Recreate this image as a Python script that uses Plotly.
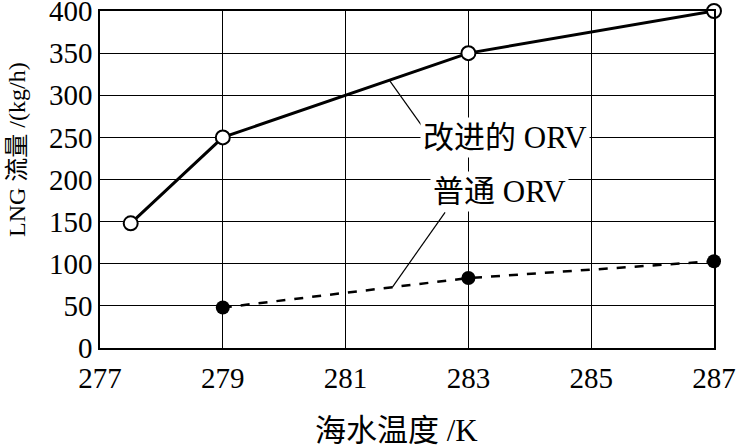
import plotly.graph_objects as go

# Data
x_improved = [277.5, 279, 283, 287]
y_improved = [148, 250, 350, 400]
x_common = [279, 283, 287]
y_common = [48, 83, 103]

x_ticks = [277, 279, 281, 283, 285, 287]
y_ticks = [0, 50, 100, 150, 200, 250, 300, 350, 400]

label_improved = "改进的 ORV"
label_common = "普通 ORV"
x_title = "海水温度 /K"
y_title = "LNG 流量 /(kg/h)"

FONT = "Liberation Serif, Times New Roman, Noto Sans CJK SC, serif"

fig = go.Figure()
fig.add_trace(go.Scatter(
    x=x_improved, y=y_improved, mode="lines+markers",
    line=dict(color="black", width=3),
    marker=dict(symbol="circle", size=14, color="white", line=dict(color="black", width=2)),
    cliponaxis=False, showlegend=False))
fig.add_trace(go.Scatter(
    x=x_common, y=y_common, mode="lines+markers",
    line=dict(color="black", width=2.5, dash="dash"),
    marker=dict(symbol="circle", size=14, color="black"),
    cliponaxis=False, showlegend=False))

# leader lines
fig.add_shape(type="line", x0=281.72, y0=317, x1=282.24, y1=264,
              line=dict(color="black", width=1.2), layer="above")
fig.add_shape(type="line", x0=281.76, y0=72, x1=282.62, y1=161,
              line=dict(color="black", width=1.2), layer="above")

fig.add_annotation(x=283.6, y=250, text=label_improved, showarrow=False,
                   font=dict(family=FONT, size=31, color="black"),
                   bgcolor="white", borderpad=2)
fig.add_annotation(x=283.5, y=186, text=label_common, showarrow=False,
                   font=dict(family=FONT, size=31, color="black"),
                   bgcolor="white", borderpad=2)

# axis titles placed as annotations to match the reference offsets
fig.add_annotation(xref="paper", yref="paper", x=(17 - 100) / 614, y=(348 - 150) / 337,
                   text=y_title, textangle=-90, showarrow=False,
                   xanchor="center", yanchor="middle",
                   font=dict(family=FONT, size=24, color="black"))
fig.add_annotation(xref="paper", yref="paper", x=(396 - 100) / 614, y=(348 - 430) / 337,
                   text=x_title, showarrow=False,
                   xanchor="center", yanchor="middle",
                   font=dict(family=FONT, size=31, color="black"))

fig.update_layout(
    width=740, height=447,
    margin=dict(l=100, r=26, t=11, b=99, autoexpand=False),
    paper_bgcolor="white", plot_bgcolor="white",
    font=dict(family=FONT, color="black", size=26),
    xaxis=dict(range=[277, 287], tickvals=x_ticks, ticktext=[str(t) for t in x_ticks],
               showgrid=True, gridcolor="black", gridwidth=1,
               showline=True, linecolor="black", linewidth=1.5, mirror=True,
               ticks="", zeroline=False, automargin=False, ticklabeloverflow="allow",
               ticklabelstandoff=3,
               tickfont=dict(family=FONT, size=29)),
    yaxis=dict(range=[0, 400], tickvals=y_ticks,
               showgrid=True, gridcolor="black", gridwidth=1,
               showline=True, linecolor="black", linewidth=1.5, mirror=True,
               ticks="", zeroline=False, automargin=False, ticklabeloverflow="allow",
               tickfont=dict(family=FONT, size=29)),
)

fig.write_html("out.html", config={"displayModeBar": False},
               post_script="document.body.style.margin='0';")
